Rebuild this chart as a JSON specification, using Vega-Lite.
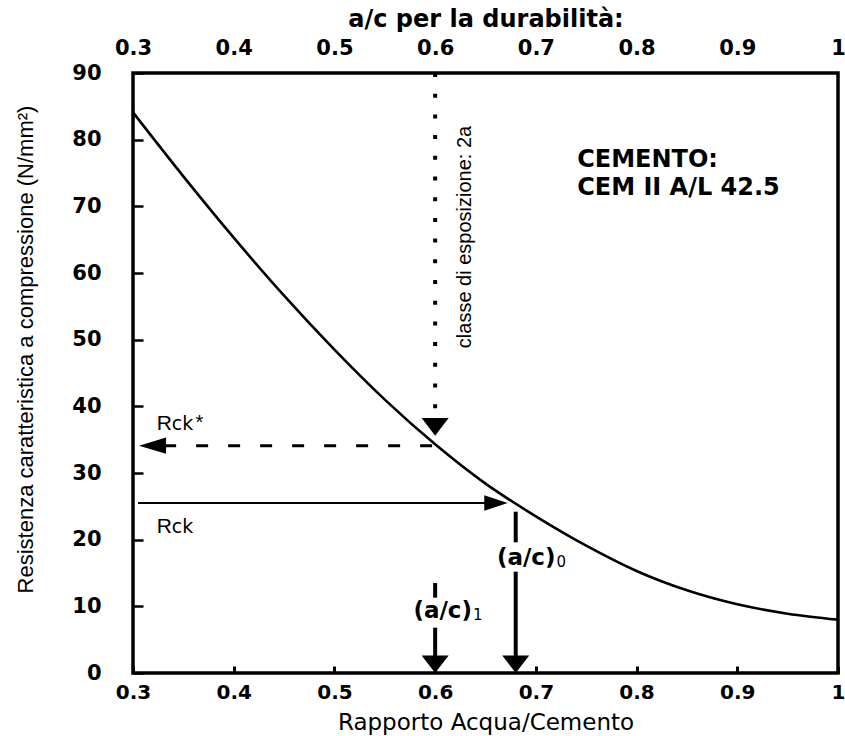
{
"$schema":"https://vega.github.io/schema/vega-lite/v6.json",
"width":705,"height":600,
"autosize":{"type":"none"},
"padding":{"left":133,"top":73,"right":7,"bottom":63},
"background":"white",
"config":{"view":{"stroke":"black","strokeWidth":3.5},"axis":{"grid":false,"domain":false,"labelColor":"black","titleColor":"black","tickColor":"black"}},
"resolve":{"axis":{"x":"independent","y":"independent"}},
"layer":[
{"data":{"values":[
{"a":0.30,"r":84.1},{"a":0.35,"r":74.5},{"a":0.40,"r":65.3},{"a":0.45,"r":56.6},{"a":0.50,"r":48.5},{"a":0.55,"r":41.0},{"a":0.60,"r":34.3},{"a":0.65,"r":28.4},{"a":0.70,"r":23.5},{"a":0.75,"r":19.1},{"a":0.80,"r":15.3},{"a":0.85,"r":12.4},{"a":0.90,"r":10.3},{"a":0.95,"r":8.9},{"a":1.00,"r":8.0}]},
 "mark":{"type":"line","color":"black","strokeWidth":2.6,"interpolate":"monotone"},
 "encoding":{
  "x":{"field":"a","type":"quantitative","scale":{"domain":[0.3,1],"nice":false,"zero":false},
   "axis":{"orient":"bottom","values":[0.3,0.4,0.5,0.6,0.7,0.8,0.9,1],"format":"~g","tickSize":-7,"tickWidth":3,"labelFont":"DejaVu Sans","labelFontWeight":"bold","labelFontSize":20,"labelPadding":16,"labelFlush":false,"title":"Rapporto Acqua/Cemento","titleFont":"DejaVu Sans","titleFontSize":23,"titleFontWeight":"normal","titleBaseline":"alphabetic","titleY":56}},
  "y":{"field":"r","type":"quantitative","scale":{"domain":[0,90],"nice":false,"zero":false},
   "axis":{"orient":"left","values":[0,10,20,30,40,50,60,70,80,90],"tickSize":-10,"tickWidth":2.5,"labelFont":"DejaVu Sans","labelFontWeight":"bold","labelFontSize":21,"labelPadding":42,"labelFlush":false,"title":"Resistenza caratteristica a compressione (N/mm²)","titleFont":"Liberation Sans","titleFontSize":22,"titleFontWeight":"normal","titleX":-96,"titleY":276}}
 }},
{"data":{"values":[{"a":0.6,"r":90,"a2":0.6,"r2":37.3}]},
 "mark":{"type":"rule","color":"black","strokeWidth":4,"strokeDash":[4,16.7]},
 "encoding":{
  "x":{"field":"a","type":"quantitative","axis":{"orient":"top","values":[0.3,0.4,0.5,0.6,0.7,0.8,0.9,1],"format":"~g","ticks":false,"labelFont":"DejaVu Sans","labelFontWeight":"bold","labelFontSize":21,"labelPadding":15,"labelFlush":false,"title":"a/c per la durabilità:","titleFont":"DejaVu Sans","titleFontSize":24,"titleFontWeight":"bold","titlePadding":6}},
  "y":{"field":"r","type":"quantitative","axis":null},
  "x2":{"field":"a2"},"y2":{"field":"r2"}
 }},
{"data":{"values":[{"a":0.597,"r":34.1,"a2":0.33,"r2":34.1}]},
 "mark":{"type":"rule","color":"black","strokeWidth":3,"strokeDash":[12,20]},
 "encoding":{"x":{"field":"a","type":"quantitative","axis":null},"y":{"field":"r","type":"quantitative","axis":null},"x2":{"field":"a2"},"y2":{"field":"r2"}}},
{"data":{"values":[{"a":0.305,"r":25.5,"a2":0.65,"r2":25.5}]},
 "mark":{"type":"rule","color":"black","strokeWidth":2},
 "encoding":{"x":{"field":"a","type":"quantitative","axis":null},"y":{"field":"r","type":"quantitative","axis":null},"x2":{"field":"a2"},"y2":{"field":"r2"}}},
{"data":{"values":[{"a":0.68,"r":24.2,"a2":0.68,"r2":19.6},{"a":0.68,"r":15.2,"a2":0.68,"r2":2.5},{"a":0.6,"r":13.5,"a2":0.6,"r2":11.3},{"a":0.6,"r":6.8,"a2":0.6,"r2":2.5}]},
 "mark":{"type":"rule","color":"black","strokeWidth":4},
 "encoding":{"x":{"field":"a","type":"quantitative","axis":null},"y":{"field":"r","type":"quantitative","axis":null},"x2":{"field":"a2"},"y2":{"field":"r2"}}},
{"data":{"values":[{"a":0.6,"r":35.6},{"a":0.6,"r":0},{"a":0.68,"r":0}]},
 "mark":{"type":"point","filled":true,"color":"black","opacity":1,"strokeWidth":0,"size":729,"shape":"M-1,-1.3L1,-1.3L0,0Z"},
 "encoding":{"x":{"field":"a","type":"quantitative","axis":null},"y":{"field":"r","type":"quantitative","axis":null}}},
{"data":{"values":[{"a":0.306,"r":34.1}]},
 "mark":{"type":"point","filled":true,"color":"black","opacity":1,"strokeWidth":0,"size":729,"shape":"M0,0L2,-0.6L2,0.6Z"},
 "encoding":{"x":{"field":"a","type":"quantitative","axis":null},"y":{"field":"r","type":"quantitative","axis":null}}},
{"data":{"values":[{"a":0.672,"r":25.5}]},
 "mark":{"type":"point","filled":true,"color":"black","opacity":1,"strokeWidth":0,"size":676,"shape":"M0,0L-1.8,-0.6L-1.8,0.6Z"},
 "encoding":{"x":{"field":"a","type":"quantitative","axis":null},"y":{"field":"r","type":"quantitative","axis":null}}},
{"data":{"values":[{"a":0.741,"r":75.9,"t":"CEMENTO:"},{"a":0.741,"r":71.7,"t":"CEM II A/L 42.5"}]},
 "mark":{"type":"text","align":"left","baseline":"alphabetic","font":"DejaVu Sans","fontWeight":"bold","fontSize":24,"color":"black"},
 "encoding":{"x":{"field":"a","type":"quantitative","axis":null},"y":{"field":"r","type":"quantitative","axis":null},"text":{"field":"t"}}},
{"data":{"values":[{"a":0.636,"r":65.4,"t":"classe di esposizione: 2a"}]},
 "mark":{"type":"text","align":"center","baseline":"alphabetic","angle":270,"font":"Liberation Sans","fontSize":20,"color":"black"},
 "encoding":{"x":{"field":"a","type":"quantitative","axis":null},"y":{"field":"r","type":"quantitative","axis":null},"text":{"field":"t"}}},
{"data":{"values":[{"a":0.3235,"r":36.45,"t":"R"},{"a":0.3235,"r":21.0,"t":"R"}]},
 "mark":{"type":"text","align":"left","baseline":"alphabetic","font":"Liberation Sans","fontSize":21,"color":"black"},
 "encoding":{"x":{"field":"a","type":"quantitative","axis":null},"y":{"field":"r","type":"quantitative","axis":null},"text":{"field":"t"}}},
{"data":{"values":[{"a":0.3385,"r":36.45,"t":"ck"},{"a":0.3385,"r":21.0,"t":"ck"}]},
 "mark":{"type":"text","align":"left","baseline":"alphabetic","font":"DejaVu Sans","fontSize":19,"color":"black"},
 "encoding":{"x":{"field":"a","type":"quantitative","axis":null},"y":{"field":"r","type":"quantitative","axis":null},"text":{"field":"t"}}},
{"data":{"values":[{"a":0.362,"r":36.6,"t":"*"}]},
 "mark":{"type":"text","align":"left","baseline":"alphabetic","font":"Liberation Sans","fontSize":20,"color":"black"},
 "encoding":{"x":{"field":"a","type":"quantitative","axis":null},"y":{"field":"r","type":"quantitative","axis":null},"text":{"field":"t"}}},
{"data":{"values":[{"a":0.7195,"r":16.2,"t":"(a/c)"},{"a":0.6366,"r":8.25,"t":"(a/c)"}]},
 "mark":{"type":"text","align":"right","baseline":"alphabetic","font":"DejaVu Sans","fontWeight":"bold","fontSize":23,"color":"black"},
 "encoding":{"x":{"field":"a","type":"quantitative","axis":null},"y":{"field":"r","type":"quantitative","axis":null},"text":{"field":"t"}}},
{"data":{"values":[{"a":0.7205,"r":15.9,"t":"0"},{"a":0.6376,"r":8.0,"t":"1"}]},
 "mark":{"type":"text","align":"left","baseline":"alphabetic","font":"DejaVu Sans","fontSize":15,"color":"black"},
 "encoding":{"x":{"field":"a","type":"quantitative","axis":null},"y":{"field":"r","type":"quantitative","axis":null},"text":{"field":"t"}}}
]
}
